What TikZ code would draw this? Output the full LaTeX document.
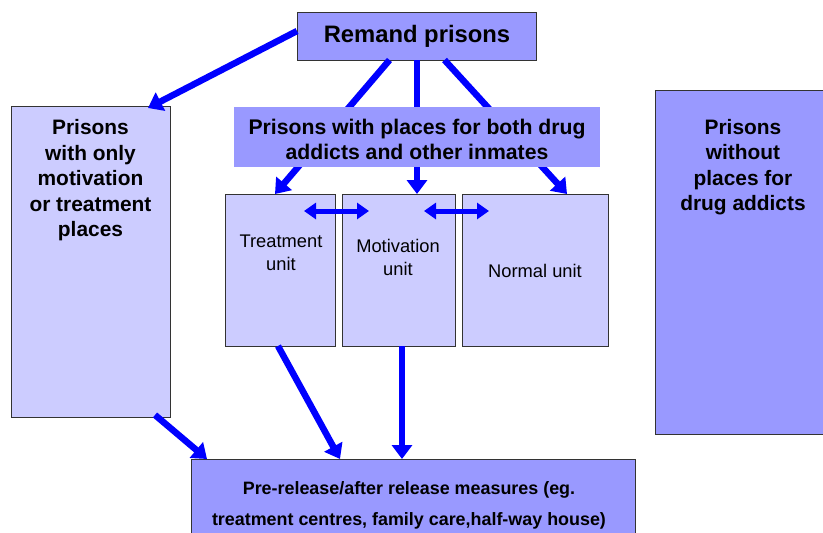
\documentclass[tikz,border=0pt]{standalone}
\usepackage{fontspec}
\setmainfont{Liberation Sans}
\usetikzlibrary{arrows.meta,calc}
\definecolor{boxdark}{HTML}{9999FF}
\definecolor{boxlight}{HTML}{CCCCFF}
\definecolor{arrowblue}{HTML}{0000FF}
\definecolor{edge}{HTML}{333333}
\tikzset{
  box/.style={draw=edge, line width=1pt, inner sep=0pt, outer sep=0pt},
  darkbox/.style={box, fill=boxdark},
  lightbox/.style={box, fill=boxlight},
  flow/.style={draw=arrowblue, line width=6.5pt, -{Triangle[width=20pt,length=14pt]}},
  twoway/.style={draw=arrowblue, line width=5pt, {Triangle[width=16pt,length=12pt]}-{Triangle[width=16pt,length=12pt]}},
  boldtxt/.style={font=\bfseries\fontsize{20.9}{25.5}\selectfont, align=center, inner sep=0pt},
  unittxt/.style={font=\fontsize{18.3}{23}\selectfont, align=center, inner sep=0pt},
}
\begin{document}
\begin{tikzpicture}[x=1pt,y=-1pt]
\useasboundingbox (0,0) rectangle (823,533);
\clip (0,0) rectangle (823,533);
\fill[white] (0,0) rectangle (823,533);
% boxes
\node[darkbox, minimum width=239pt, minimum height=48pt] (remand) at (416.5,36) {};
\node[lightbox, minimum width=159pt, minimum height=311pt] (left) at (90.5,261.5) {};
\node[lightbox, minimum width=110pt, minimum height=152pt] (treat) at (280,270) {};
\node[lightbox, minimum width=113pt, minimum height=152pt] (motiv) at (398.5,270) {};
\node[lightbox, minimum width=146pt, minimum height=152pt] (normal) at (535,270) {};
\node[darkbox, minimum width=175pt, minimum height=344pt] (right) at (742.5,262) {};
\node[darkbox, minimum width=444pt, minimum height=86pt] (bottom) at (413,502) {};
% texts
\node[font=\bfseries\fontsize{23.8}{28}\selectfont, inner sep=0pt] (remandtxt) at (417,36.5) {Remand prisons};
\node[boldtxt, anchor=north] (lefttxt) at (90.5,119.5) {Prisons\\with only\\motivation\\or treatment\\places};
\node[boldtxt, anchor=north] (righttxt) at (743,119) {Prisons\\without\\places for\\drug addicts};
\node[unittxt] (treattxt) at (281,253) {Treatment\\unit};
\node[unittxt] (motivtxt) at (398,257) {Motivation\\unit};
\node[unittxt] (normaltxt) at (535,271) {Normal unit};
\node[font=\bfseries\fontsize{17.9}{31}\selectfont, align=center, inner sep=0pt] (bottomtxt) at (409,505.5) {Pre-release/after release measures (eg.\\treatment centres, family care,half-way house)};
% arrows
\draw[flow] ([yshift=5pt]remand.west) -- ([xshift=-22pt,yshift=-2pt]left.north east);
\draw[flow] ([xshift=-27pt]remand.south) -- ([xshift=-5pt]treat.north);
\draw[flow] ([xshift=0.5pt]remand.south) -- ([xshift=18.5pt]motiv.north);
\draw[flow] ([xshift=28pt]remand.south) -- ([xshift=32pt]normal.north);
\draw[flow] ([xshift=-2pt]treat.south) -- ([xshift=-73pt]bottom.north);
\draw[flow] ([xshift=3.5pt]motiv.south) -- ([xshift=-11pt]bottom.north);
\draw[flow] ([xshift=64.5pt,yshift=2pt]left.south) -- ([xshift=16pt]bottom.north west);
\coordinate (d1a) at ($(treat.north east)+(-31,17)$);
\coordinate (d1b) at ($(treat.north east)+(34,17)$);
\coordinate (d2a) at ($(motiv.north east)+(-31,17)$);
\coordinate (d2b) at ($(motiv.north east)+(34,17)$);
\draw[twoway] (d1a) -- (d1b);
\draw[twoway] (d2a) -- (d2b);
% banner on top of arrows
\node[fill=boxdark, minimum width=366pt, minimum height=60pt, inner sep=0pt] (banner) at (417,137) {};
\node[font=\bfseries\fontsize{21.2}{25}\selectfont, align=center, inner sep=0pt] (bannertxt) at (417,139.5) {Prisons with places for both drug\\addicts and other inmates};
\end{tikzpicture}
\end{document}
